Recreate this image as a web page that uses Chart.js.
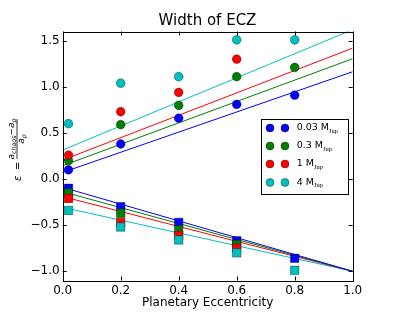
<!DOCTYPE html>
<html>
<head>
<meta charset="utf-8">
<script src="https://cdn.jsdelivr.net/npm/chart.js@4.4.0/dist/chart.umd.min.js"></script>
<style>
	html, body { margin: 0; padding: 0; background: #fff; }
</style>
</head>
<body>
<canvas id="myChart" width="415" height="312"></canvas>
<script>
const FONT = 'DejaVu Sans';

// planetary eccentricity of each run
const ecc = [0.02, 0.2, 0.4, 0.6, 0.8];
const massLabels = ['0.03', '0.3', '1', '4'];
const colors = ['#0000ff', '#008000', '#ff0000', '#00bfbf'];

// outer edge of the chaotic zone (circles)
const outer003 = [0.10, 0.38, 0.66, 0.81, 0.91];
const outer03 = [0.20, 0.59, 0.80, 1.11, 1.21];
const outer1 = [0.26, 0.73, 0.94, 1.30, null];
const outer4 = [0.60, 1.04, 1.11, 1.51, 1.51];

// inner edge of the chaotic zone (squares)
const inner003 = [-0.10, -0.30, -0.47, -0.67, -0.86];
const inner03 = [-0.15, -0.37, -0.55, -0.71, null];
const inner1 = [-0.21, -0.47, -0.61, -0.75, null];
const inner4 = [-0.34, -0.52, -0.66, -0.80, -0.99];

// fitted lines, value at e=0 and e=1
const fitX = [0, 1];
const outerFit003 = [0.072, 1.164];
const outerFit03 = [0.145, 1.305];
const outerFit1 = [0.206, 1.42];
const outerFit4 = [0.315, 1.62];
const innerFit003 = [-0.09, -1.0];
const innerFit03 = [-0.137, -1.0];
const innerFit1 = [-0.19, -1.0];
const innerFit4 = [-0.307, -1.0];

const xTicks = [0, 0.2, 0.4, 0.6, 0.8, 1.0];
const yTicks = [-1.0, -0.5, 0.0, 0.5, 1.0, 1.5];

const outers = [outer003, outer03, outer1, outer4];
const inners = [inner003, inner03, inner1, inner4];
const outerFits = [outerFit003, outerFit03, outerFit1, outerFit4];
const innerFits = [innerFit003, innerFit03, innerFit1, innerFit4];

function points(xs, ys) {
	let pts = [];
	for (let i = 0; i < xs.length; i++) {
		if (ys[i] !== null) pts.push({ x: xs[i], y: ys[i] });
	}
	return pts;
}

function fmt(v) {
	let s = Math.abs(v).toFixed(1);
	return v < -1e-9 ? '\u2212' + s : s;
}

let datasets = [];
for (let i = 0; i < 4; i++) {
	datasets.push({
		data: points(fitX, outerFits[i]),
		showLine: true, borderColor: colors[i], borderWidth: 1,
		pointRadius: 0, order: 20 + i
	});
	datasets.push({
		data: points(fitX, innerFits[i]),
		showLine: true, borderColor: colors[i], borderWidth: 1,
		pointRadius: 0, order: 20 + i
	});
	datasets.push({
		data: points(ecc, outers[i]),
		pointStyle: 'circle', pointRadius: 4.4,
		backgroundColor: colors[i], borderColor: 'rgba(0,0,0,0.45)', borderWidth: 0.8,
		order: 10 - i
	});
	datasets.push({
		data: points(ecc, inners[i]),
		pointStyle: 'rect', pointRadius: 6,
		backgroundColor: colors[i], borderColor: 'rgba(0,0,0,0.45)', borderWidth: 0.8,
		order: 10 - i
	});
}

const decor = {
	id: 'decor',
	afterDatasetsDraw(chart) {
		const { ctx, chartArea: a, scales } = chart;
		ctx.save();
		ctx.strokeStyle = '#000';
		ctx.lineWidth = 1;
		ctx.beginPath();
		xTicks.forEach(v => {
			let px = Math.round(scales.x.getPixelForValue(v)) + 0.5;
			ctx.moveTo(px, a.bottom); ctx.lineTo(px, a.bottom - 4);
			ctx.moveTo(px, a.top); ctx.lineTo(px, a.top + 4);
		});
		yTicks.forEach(v => {
			let py = Math.round(scales.y.getPixelForValue(v)) + 0.5;
			ctx.moveTo(a.left, py); ctx.lineTo(a.left + 4, py);
			ctx.moveTo(a.right, py); ctx.lineTo(a.right - 4, py);
		});
		ctx.stroke();
		ctx.strokeRect(Math.round(a.left) + 0.5, Math.round(a.top) + 0.5,
			Math.round(a.right - a.left), Math.round(a.bottom - a.top));
		ctx.restore();
	},
	afterDraw(chart) {
		const ctx = chart.ctx;
		ctx.save();

		// legend
		const lx = 261, ly = 119, lw = 87, lh = 75;
		ctx.fillStyle = '#fff';
		ctx.fillRect(lx, ly, lw, lh);
		ctx.strokeStyle = '#000';
		ctx.lineWidth = 1;
		ctx.strokeRect(lx + 0.5, ly + 0.5, lw, lh);
		const rows = [128, 146, 164, 182.5];
		for (let i = 0; i < 4; i++) {
			[270, 285].forEach(mx => {
				ctx.beginPath();
				ctx.arc(mx, rows[i], 4, 0, Math.PI * 2);
				ctx.fillStyle = colors[i];
				ctx.fill();
				ctx.strokeStyle = 'rgba(0,0,0,0.45)';
				ctx.lineWidth = 0.8;
				ctx.stroke();
			});
			ctx.fillStyle = '#000';
			ctx.textBaseline = 'middle';
			ctx.font = '9.5px ' + FONT;
			let txt = massLabels[i] + ' M';
			ctx.fillText(txt, 296.7, rows[i]);
			let w = ctx.measureText(txt).width;
			ctx.font = '6.5px "Liberation Serif"';
			ctx.fillText('Jup', 296.7 + w, rows[i] + 3);
		}

		// y axis label: eps = (a_chaos - a_p) / a_p
		ctx.translate(17, 181);
		ctx.rotate(-Math.PI / 2);
		ctx.fillStyle = '#000';
		ctx.textBaseline = 'alphabetic';
		ctx.font = 'italic 10px ' + FONT;
		ctx.fillText('\u03b5', 0, 3.5);
		ctx.font = '10px ' + FONT;
		ctx.fillText('=', 11, 3.5);
		const f0 = 22, f1 = 62;
		ctx.fillRect(f0, -0.4, f1 - f0, 0.8);

		let parts = [
			['italic 9px ' + FONT, 'a', 0],
			['italic 6.3px ' + FONT, 'chaos', 1.8],
			['9px ' + FONT, '\u2212', 0],
			['italic 9px ' + FONT, 'a', 0],
			['italic 6.3px ' + FONT, 'p', 1.8]
		];
		let total = 0;
		parts.forEach(p => { ctx.font = p[0]; total += ctx.measureText(p[1]).width; });
		let u = (f0 + f1) / 2 - total / 2;
		parts.forEach(p => {
			ctx.font = p[0];
			ctx.fillText(p[1], u, -3 + p[2]);
			u += ctx.measureText(p[1]).width;
		});
		let den = [parts[3], parts[4]];
		total = 0;
		den.forEach(p => { ctx.font = p[0]; total += ctx.measureText(p[1]).width; });
		u = (f0 + f1) / 2 - total / 2;
		den.forEach(p => {
			ctx.font = p[0];
			ctx.fillText(p[1], u, 7 + p[2]);
			u += ctx.measureText(p[1]).width;
		});
		ctx.restore();
	}
};

const tickFont = { family: FONT, size: 12 };

new Chart(document.getElementById('myChart').getContext('2d'), {
	type: 'scatter',
	data: { datasets: datasets },
	options: {
		responsive: false,
		animation: false,
		layout: { padding: 0 },
		plugins: {
			legend: { display: false },
			tooltip: { enabled: false },
			title: {
				display: true,
				text: 'Width of ECZ',
				color: '#000',
				font: { family: FONT, size: 15, weight: 'normal' },
				padding: { top: 12.5, bottom: 1 }
			}
		},
		scales: {
			x: {
				type: 'linear', min: 0, max: 1,
				afterBuildTicks: s => { s.ticks = xTicks.map(v => ({ value: v })); },
				afterFit: s => { s.height = 31.5; },
				grid: { display: false, drawTicks: false },
				border: { display: false },
				ticks: { color: '#000', font: tickFont, padding: 3, maxRotation: 0, autoSkip: false, callback: v => fmt(v) },
				title: { display: true, text: 'Planetary Eccentricity', color: '#000', font: tickFont, padding: { top: 0, bottom: 2 } }
			},
			y: {
				type: 'linear', min: -1.1, max: 1.6,
				afterBuildTicks: s => { s.ticks = yTicks.map(v => ({ value: v })); },
				afterFit: s => { s.width = 62.7; },
				grid: { display: false, drawTicks: false },
				border: { display: false },
				ticks: { color: '#000', font: tickFont, padding: 3, autoSkip: false, callback: v => fmt(v) }
			},
			yRight: {
				axis: 'y', type: 'linear', position: 'right', min: 0, max: 1,
				afterFit: s => { s.width = 62.3; },
				grid: { display: false, drawTicks: false },
				border: { display: false },
				ticks: { display: false }
			}
		}
	},
	plugins: [decor]
});
</script>
</body>
</html>
